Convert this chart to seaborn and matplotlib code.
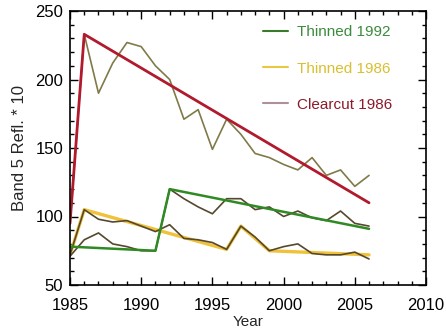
import numpy as np
import pandas as pd
import matplotlib
matplotlib.use("Agg")
import matplotlib.pyplot as plt
import seaborn as sns
from matplotlib.lines import Line2D

years = list(range(1985, 2007))

clearcut_raw = [95, 233, 190, 212, 227, 224, 210, 200, 171, 178, 149, 171,
                160, 146, 143, 138, 134, 143, 130, 134, 122, 130]
thinned92_raw = [71, 83, 88, 80, 78, 75, 75, 120, 113, 107, 102, 113,
                 113, 105, 107, 100, 104, 99, 97, 104, 95, 93]
thinned86_raw = [72, 105, 98, 96, 97, 93, 89, 94, 84, 83, 81, 76,
                 93, 85, 75, 78, 80, 73, 72, 72, 74, 69]

# fitted segments
clearcut_fit_x = [1985, 1986, 2006]
clearcut_fit_y = [95, 233, 110]
thinned92_fit_x = [1985, 1991, 1992, 2006]
thinned92_fit_y = [78, 75, 120, 91]
thinned86_fit_x = [1985, 1986, 1996, 1997, 1999, 2006]
thinned86_fit_y = [72, 105, 76, 93, 75, 72]

labels = ["Thinned 1992", "Thinned 1986", "Clearcut 1986"]

green = "#2f8a24"
yellow = "#efc23a"
red = "#b01a2c"

sns.set_style("ticks")
plt.rcParams['font.family'] = ['Liberation Sans', 'DejaVu Sans']

fig = plt.figure(figsize=(4.46, 3.33), dpi=100)
ax = fig.add_axes([70 / 446, 48 / 333, 356 / 446, 274 / 333])

raw = pd.DataFrame({"year": years, "clearcut": clearcut_raw,
                    "t92": thinned92_raw, "t86": thinned86_raw})

sns.lineplot(x=thinned86_fit_x, y=thinned86_fit_y, ax=ax, color=yellow, lw=2.4)
for col in ["t86", "t92"]:
    sns.lineplot(data=raw, x="year", y=col, ax=ax, color="#55482e", lw=1.2)
sns.lineplot(data=raw, x="year", y="clearcut", ax=ax, color="#807a48", lw=1.2)
sns.lineplot(x=thinned92_fit_x, y=thinned92_fit_y, ax=ax, color=green, lw=1.8)
sns.lineplot(x=clearcut_fit_x, y=clearcut_fit_y, ax=ax, color=red, lw=2.0)

ax.set_xlim(1985, 2010)
ax.set_ylim(50, 250)
ax.set_xticks([1985, 1990, 1995, 2000, 2005, 2010])
ax.set_yticks([50, 100, 150, 200, 250])
ax.set_xticks(np.arange(1985, 2011, 1), minor=True)
ax.set_yticks(np.arange(50, 251, 10), minor=True)
ax.tick_params(which="both", direction="in", top=True, right=True,
               width=1.0, labelsize=12, colors="black")
ax.tick_params(which="major", length=6)
ax.tick_params(which="minor", length=3)
ax.tick_params(axis="x", which="major", pad=9)
ax.tick_params(axis="y", which="major", pad=5)
for s in ax.spines.values():
    s.set_linewidth(1.2)
    s.set_color("black")

ax.set_xlabel("Year", fontsize=11, labelpad=2)
ax.set_ylabel("Band 5 Refl. * 10", fontsize=12, labelpad=6)

# legend
handles = [Line2D([], [], color="#3a7a2a", lw=1.5),
           Line2D([], [], color="#e8c840", lw=1.5),
           Line2D([], [], color="#b09098", lw=1.5)]
leg = ax.legend(handles, labels, loc="upper left", bbox_to_anchor=(0.522, 0.975),
                frameon=False, fontsize=11, borderpad=0, labelspacing=1.45,
                handlelength=1.6, handletextpad=0.6)
for t, c in zip(leg.get_texts(), ["#3c8a3c", "#d8c030", "#8b1a2a"]):
    t.set_color(c)

fig.savefig("out.png", dpi=100)
